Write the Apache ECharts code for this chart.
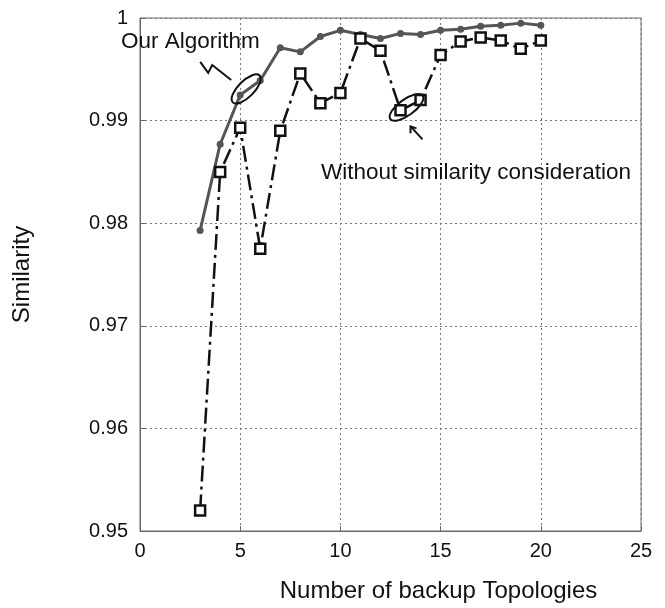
<!DOCTYPE html>
<html>
<head>
<meta charset="utf-8">
<script src="https://cdn.jsdelivr.net/npm/echarts@6/dist/echarts.min.js"></script>
<style>
  html, body { margin: 0; padding: 0; background: #ffffff; }
  #chart { width: 665px; height: 608px; }
</style>
</head>
<body>
<div id="chart"></div>
<script>
// Number of backup topologies (x) and the resulting similarity for each method
const topologies = [3, 4, 5, 6, 7, 8, 9, 10, 11, 12, 13, 14, 15, 16, 17, 18, 19, 20];
const ourAlgorithm = [0.9793, 0.9877, 0.9925, 0.9939, 0.9971, 0.9967, 0.9982, 0.9988, 0.9984,
                      0.9980, 0.9985, 0.9984, 0.9988, 0.9989, 0.9992, 0.9993, 0.9995, 0.9993];
const withoutSimilarity = [0.9520, 0.9850, 0.9893, 0.9775, 0.9890, 0.9946, 0.9917, 0.9927, 0.9980,
                           0.9968, 0.9910, 0.9920, 0.9964, 0.9977, 0.9981, 0.9978, 0.9970, 0.9978];

const xTicks = [0, 5, 10, 15, 20, 25];
const yTicks = [0.95, 0.96, 0.97, 0.98, 0.99, 1];

const labelOurs = 'Our Algorithm';
const labelWithout = 'Without similarity consideration';

const FONT = 'Liberation Sans, Arial, sans-serif';
const chart = echarts.init(document.getElementById('chart'), null, { renderer: 'canvas' });

const pair = (xArr, yArr) => xArr.map((x, i) => [x, yArr[i]]);

chart.setOption({
  backgroundColor: '#ffffff',
  animation: false,
  grid: {
    left: 140, right: 24, top: 18, bottom: 77,
    outerBoundsMode: 'none', containLabel: false,
    show: true, borderColor: '#6a6a6a', borderWidth: 1
  },
  xAxis: {
    type: 'value',
    min: xTicks[0], max: xTicks[xTicks.length - 1], interval: 5,
    name: 'Number of backup Topologies',
    nameLocation: 'middle', nameGap: 48,
    nameTextStyle: { fontFamily: FONT, fontSize: 24, color: '#111', padding: [0, 0, 0, 96] },
    axisLine: { lineStyle: { color: '#6a6a6a', width: 1 } },
    axisTick: { inside: true, length: 5, lineStyle: { color: '#6a6a6a' } },
    axisLabel: { fontFamily: FONT, fontSize: 20, color: '#111', margin: 10 },
    splitLine: { show: true, lineStyle: { type: [2, 3], color: '#777', width: 1 } }
  },
  yAxis: {
    type: 'value',
    min: yTicks[0], max: yTicks[yTicks.length - 1], interval: 0.01,
    name: 'Similarity',
    nameLocation: 'middle', nameGap: 106,
    nameTextStyle: { fontFamily: FONT, fontSize: 24, color: '#111' },
    axisLine: { lineStyle: { color: '#6a6a6a', width: 1 } },
    axisTick: { inside: true, length: 5, lineStyle: { color: '#6a6a6a' } },
    axisLabel: {
      fontFamily: FONT, fontSize: 20, color: '#111', margin: 12,
      formatter: v => String(parseFloat(v.toFixed(2)))
    },
    splitLine: { show: true, lineStyle: { type: [2, 3], color: '#777', width: 1 } }
  },
  series: [
    {
      name: labelOurs,
      type: 'line',
      data: pair(topologies, ourAlgorithm),
      symbol: 'circle', symbolSize: 7,
      lineStyle: { color: '#555555', width: 3 },
      itemStyle: { color: '#555555' },
      z: 2
    },
    {
      name: labelWithout,
      type: 'line',
      data: pair(topologies, withoutSimilarity),
      symbol: 'rect', symbolSize: 10,
      lineStyle: { color: '#111111', width: 2.5, type: [16, 5, 3, 5] },
      itemStyle: { color: '#ffffff', borderColor: '#111111', borderWidth: 2.5 },
      z: 3
    }
  ]
});

// Annotations: labels, circled points and pointer strokes anchored to the data
const p5 = chart.convertToPixel({ gridIndex: 0 }, [topologies[2], ourAlgorithm[2]]);
const p13 = chart.convertToPixel({ gridIndex: 0 }, [topologies[10], withoutSimilarity[10]]);
const ink = { stroke: '#111', lineWidth: 2, fill: null };

chart.setOption({
  graphic: [
    { type: 'text', left: 121, top: 30, z: 10,
      style: { text: labelOurs, fontFamily: FONT, fontSize: 22.5, fill: '#111' } },
    { type: 'text', left: 321, top: 161, z: 10,
      style: { text: labelWithout, fontFamily: FONT, fontSize: 22.5, fill: '#111' } },
    { type: 'ellipse', x: p5[0] + 6, y: p5[1] - 6, rotation: Math.PI / 4, z: 10,
      shape: { cx: 0, cy: 0, rx: 19, ry: 8 }, style: ink },
    { type: 'polyline', z: 10,
      shape: { points: [[p5[0] - 40, p5[1] - 33], [p5[0] - 32, p5[1] - 22],
                        [p5[0] - 28, p5[1] - 30], [p5[0] - 9, p5[1] - 15]] },
      style: { stroke: '#111', lineWidth: 2, fill: null } },
    { type: 'ellipse', x: p13[0] + 6, y: p13[1] - 3, rotation: Math.PI * 0.2, z: 10,
      shape: { cx: 0, cy: 0, rx: 20, ry: 8 }, style: ink },
    { type: 'polyline', z: 10,
      shape: { points: [[p13[0] + 22, p13[1] + 29], [p13[0] + 10, p13[1] + 16]] },
      style: { stroke: '#111', lineWidth: 2, fill: null } },
    { type: 'polyline', z: 10,
      shape: { points: [[p13[0] + 10, p13[1] + 23], [p13[0] + 10, p13[1] + 16], [p13[0] + 16, p13[1] + 18]] },
      style: { stroke: '#111', lineWidth: 2, fill: null } }
  ]
});
</script>
</body>
</html>
